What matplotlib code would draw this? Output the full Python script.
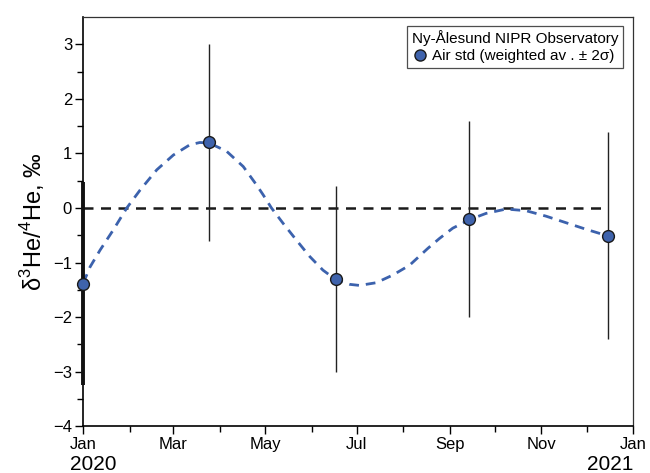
import numpy as np
import matplotlib
matplotlib.use("Agg")
import matplotlib.pyplot as plt
import matplotlib.dates as mdates

plt.rcParams['font.family'] = ['Liberation Sans', 'DejaVu Sans']
plt.rcParams['mathtext.fontset'] = 'custom'
plt.rcParams['mathtext.rm'] = 'Liberation Sans'

start = np.datetime64('2020-01-01')

# measurements (days since 2020-01-01, delta value, 2 sigma)
obs_days = [0, 84, 168, 257, 349]
obs_vals = [-1.39, 1.2, -1.3, -0.2, -0.51]
obs_err = [1.86, 1.8, 1.7, 1.8, 1.9]

# fitted seasonal curve
fit_days = [0, 4.6, 11.3, 20.1, 29.0, 37.9, 49.0, 60.0, 71.1, 77.7, 83.9, 95.4,
            106.5, 115.4, 119.8, 125.3, 133.0, 141.9, 150.8, 159.6, 167.9, 177.3,
            183.9, 195.1, 206.1, 217.2, 229.4, 237.1, 246.0, 257.5, 268.1, 281.4,
            294.7, 308.0, 321.3, 334.6, 348.9]
fit_vals = [-1.38, -1.08, -0.77, -0.40, 0.0, 0.33, 0.70, 0.97, 1.16, 1.20, 1.19, 1.04,
            0.76, 0.42, 0.24, 0.0, -0.28, -0.59, -0.89, -1.14, -1.31, -1.40,
            -1.42, -1.37, -1.23, -1.05, -0.74, -0.56, -0.37, -0.21, -0.10, -0.02,
            -0.05, -0.15, -0.27, -0.39, -0.51]


def to_dates(days):
    return [(start + np.timedelta64(int(round(d * 24)), 'h')).astype('datetime64[s]').astype(object) for d in days]


obs_x = to_dates(obs_days)
fit_x = to_dates(fit_days)

fig = plt.figure(figsize=(6.5, 4.73), dpi=100)
ax = fig.add_axes([0.128, 0.099, 0.846, 0.865])

ax.plot([obs_x[0], obs_x[-1]], [0, 0], color='#1a1a1a', lw=1.8, ls=(0, (4, 3)), zorder=2)
ax.plot(fit_x, fit_vals, color='#3c62ad', lw=2, ls=(0, (3.5, 2.5)), zorder=3)

ax.errorbar(obs_x[1:], obs_vals[1:], yerr=obs_err[1:], fmt='none', ecolor='#222222',
            elinewidth=1, capsize=0, zorder=4)
eb = ax.errorbar(obs_x[:1], obs_vals[:1], yerr=obs_err[:1], fmt='none', ecolor='#111111',
                 elinewidth=2.8, capsize=0, zorder=4)
for coll in eb[2]:
    coll.set_clip_on(False)
ax.plot(obs_x, obs_vals, 'o', ms=8.5, mfc='#3f63ac', mec='#1a1a1a', mew=1,
        zorder=5, clip_on=False, label='Air std (weighted av . ± 2σ)')

ax.set_xlim(np.datetime64('2020-01-01').astype(object), np.datetime64('2021-01-01').astype(object))
ax.set_ylim(-4, 3.5)
ax.set_yticks([-4, -3, -2, -1, 0, 1, 2, 3])
ax.set_yticklabels(['\u22124', '\u22123', '\u22122', '\u22121', '0', '1', '2', '3'])
ax.set_yticks(np.arange(-3.5, 3.5, 1.0), minor=True)

ax.xaxis.set_major_locator(mdates.MonthLocator(bymonth=[1, 3, 5, 7, 9, 11]))
ax.xaxis.set_major_formatter(mdates.DateFormatter('%b'))
ax.xaxis.set_minor_locator(mdates.MonthLocator())

ax.tick_params(which='major', direction='out', length=6, width=1, labelsize=12, pad=2)
ax.tick_params(which='minor', direction='out', length=4, width=1)
for s in ['left', 'bottom']:
    ax.spines[s].set_linewidth(1.2)
for s in ['top', 'right']:
    ax.spines[s].set_linewidth(0.9)
    ax.spines[s].set_color('#333333')

ax.text(-0.024, -0.071, '2020', transform=ax.transAxes, fontsize=15, ha='left', va='top')
ax.text(1.0, -0.071, '2021', transform=ax.transAxes, fontsize=15, ha='right', va='top')

ax.set_ylabel(r'δ$^{3}$He/$^{4}$He, ‰', fontsize=17, labelpad=4)

leg = ax.legend(loc='upper right', bbox_to_anchor=(0.99, 0.99), title='Ny-Ålesund NIPR Observatory',
                fontsize=11, title_fontsize=11, frameon=True, fancybox=False, handletextpad=0.3,
                handlelength=1.0, borderpad=0.3, labelspacing=0.2, borderaxespad=0.3)
leg._legend_box.align = 'left'
leg.get_frame().set_edgecolor('#222222')
leg.get_frame().set_linewidth(0.9)
for h in leg.legend_handles:
    h.set_markersize(8)

fig.savefig('out.png', dpi=100)
